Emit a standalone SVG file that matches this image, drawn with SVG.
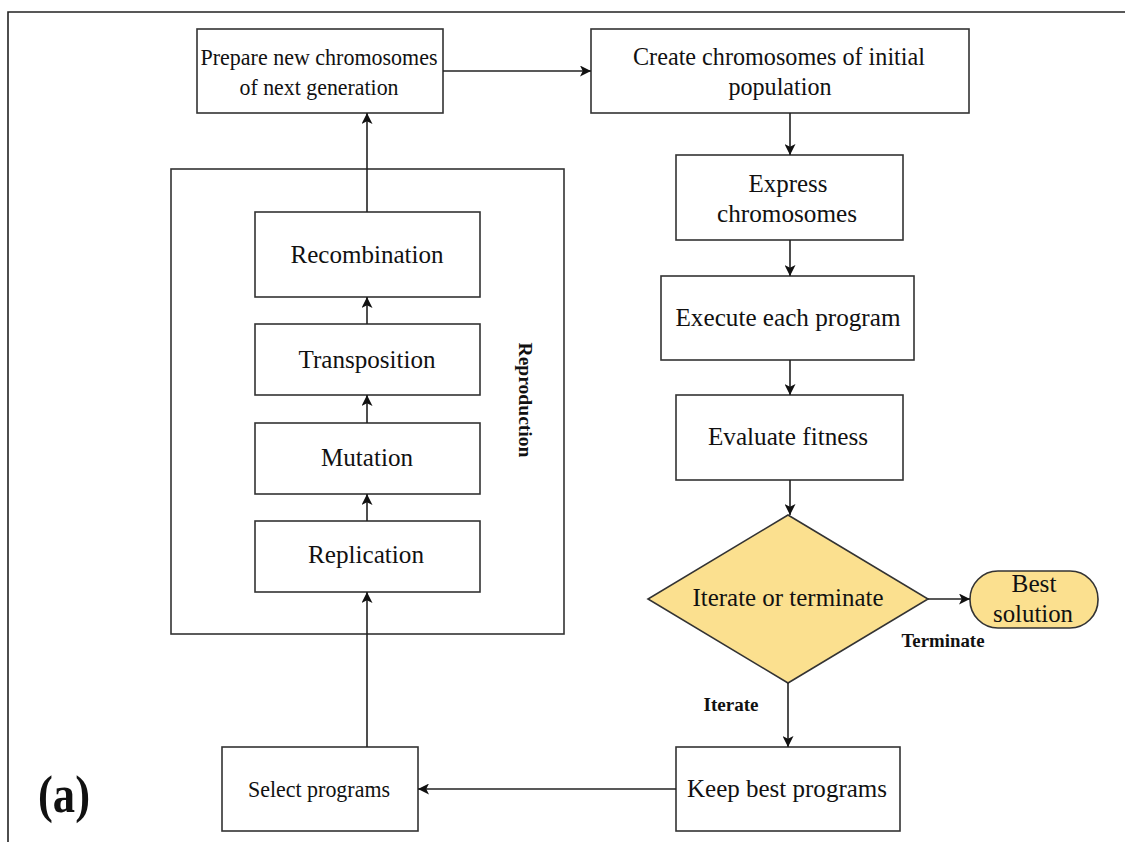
<svg xmlns="http://www.w3.org/2000/svg" width="1125" height="842" viewBox="0 0 1125 842">
<style>
.box{fill:#fff;stroke:#333;stroke-width:1.6}
.dec{fill:#fbe08f;stroke:#333;stroke-width:1.6}
.t{font-family:"Liberation Serif","Times New Roman",serif;font-size:25px;fill:#111;text-anchor:middle}
.s{font-size:23px}
.b{font-family:"Liberation Serif","Times New Roman",serif;font-weight:bold;font-size:18px;fill:#111;text-anchor:middle}
.ln{fill:none;stroke:#222;stroke-width:1.6;marker-end:url(#ah)}
</style>
<defs>
<marker id="ah" viewBox="0 0 10 10" refX="10" refY="5" markerWidth="11" markerHeight="11" markerUnits="userSpaceOnUse" orient="auto">
<path d="M0,0 L10,5 L0,10 L2.5,5 Z" fill="#111"/>
</marker>
</defs>
<rect width="1125" height="842" fill="#fff"/>
<path d="M8,850 V12 H1130" fill="none" stroke="#222" stroke-width="1.6"/>
<text x="38" y="812" font-family="Liberation Serif,serif" font-weight="bold" font-size="52" fill="#111" textLength="52" lengthAdjust="spacingAndGlyphs">(a)</text>

<g id="reproduction">
<rect x="171" y="169" width="393" height="465" fill="none" stroke="#333" stroke-width="1.6"/>
<text class="b" transform="translate(525,400) rotate(90)" y="6" font-size="19" textLength="115" lengthAdjust="spacingAndGlyphs">Reproduction</text>
</g>
<g id="prepare"><rect class="box" x="197" y="29" width="246" height="84"/>
<text class="t s" x="319" y="65" textLength="237" lengthAdjust="spacingAndGlyphs">Prepare new chromosomes</text><text class="t s" x="319" y="95" textLength="159" lengthAdjust="spacingAndGlyphs">of next generation</text></g>
<g id="create"><rect class="box" x="591" y="29" width="378" height="84"/>
<text class="t" x="779" y="65" textLength="292" lengthAdjust="spacingAndGlyphs">Create chromosomes of initial</text><text class="t" x="780" y="95" textLength="103" lengthAdjust="spacingAndGlyphs">population</text></g>
<g id="express"><rect class="box" x="676" y="155" width="227" height="85"/>
<text class="t" x="788" y="192" textLength="79" lengthAdjust="spacingAndGlyphs">Express</text><text class="t" x="787" y="222" textLength="140" lengthAdjust="spacingAndGlyphs">chromosomes</text></g>
<g id="execute"><rect class="box" x="661" y="276" width="253" height="84"/>
<text class="t" x="788" y="326" textLength="225" lengthAdjust="spacingAndGlyphs">Execute each program</text></g>
<g id="evaluate"><rect class="box" x="676" y="395" width="227" height="85"/>
<text class="t" x="788" y="445" textLength="160" lengthAdjust="spacingAndGlyphs">Evaluate fitness</text></g>
<g id="decision"><polygon class="dec" points="788,515 928,599 788,683 648,599"/>
<text class="t" x="788" y="606" textLength="191" lengthAdjust="spacingAndGlyphs">Iterate or terminate</text></g>
<g id="best"><rect class="dec" x="970" y="571" width="128" height="57" rx="28" ry="28"/>
<text class="t" x="1034" y="592" textLength="45" lengthAdjust="spacingAndGlyphs">Best</text><text class="t" x="1033" y="622" textLength="80" lengthAdjust="spacingAndGlyphs">solution</text></g>
<g id="keep"><rect class="box" x="676" y="747" width="224" height="84"/>
<text class="t" x="787" y="797" textLength="200" lengthAdjust="spacingAndGlyphs">Keep best programs</text></g>
<g id="select"><rect class="box" x="222" y="747" width="196" height="84"/>
<text class="t s" x="319" y="797" textLength="142" lengthAdjust="spacingAndGlyphs">Select programs</text></g>
<g id="recombination"><rect class="box" x="255" y="212" width="225" height="85"/>
<text class="t" x="367" y="263" textLength="153" lengthAdjust="spacingAndGlyphs">Recombination</text></g>
<g id="transposition"><rect class="box" x="255" y="324" width="225" height="71"/>
<text class="t" x="367" y="368" textLength="137" lengthAdjust="spacingAndGlyphs">Transposition</text></g>
<g id="mutation"><rect class="box" x="255" y="423" width="225" height="71"/>
<text class="t" x="367" y="466" textLength="92" lengthAdjust="spacingAndGlyphs">Mutation</text></g>
<g id="replication"><rect class="box" x="255" y="521" width="225" height="71"/>
<text class="t" x="366" y="563" textLength="116" lengthAdjust="spacingAndGlyphs">Replication</text></g>

<g id="connectors">
<path class="ln" d="M443,71 H591"/>
<path class="ln" d="M790,113 V155"/>
<path class="ln" d="M790,240 V276"/>
<path class="ln" d="M790,360 V395"/>
<path class="ln" d="M790,480 V515"/>
<path class="ln" d="M928,599 H970"/>
<path class="ln" d="M788,683 V747"/>
<path class="ln" d="M676,789 H418"/>
<path class="ln" d="M367,747 V592"/>
<path class="ln" d="M367,521 V494"/>
<path class="ln" d="M367,423 V395"/>
<path class="ln" d="M367,324 V297"/>
<path class="ln" d="M367,212 V113"/>
<text class="b" x="943" y="647" textLength="83" lengthAdjust="spacingAndGlyphs">Terminate</text>
<text class="b" x="731" y="711" textLength="55" lengthAdjust="spacingAndGlyphs">Iterate</text>
</g>
</svg>
